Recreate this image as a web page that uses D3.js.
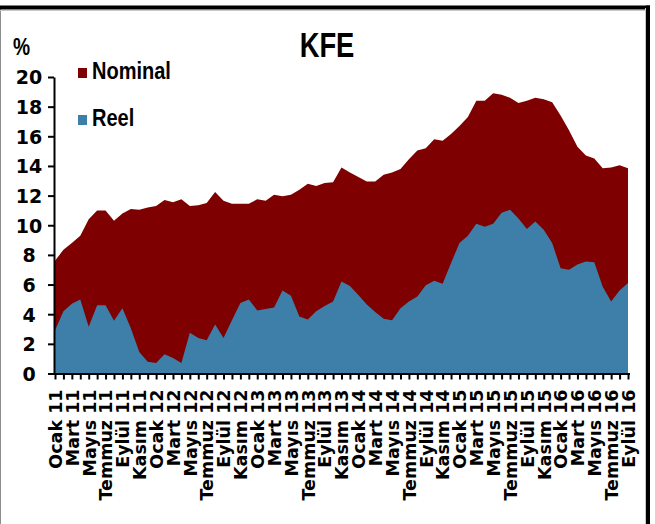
<!DOCTYPE html>
<html>
<head>
<meta charset="utf-8">
<script src="https://cdn.jsdelivr.net/npm/d3@7"></script>
<style>
  html, body { margin: 0; padding: 0; background: #fff; }
  svg { display: block; }
  .narrow { font-family: "Liberation Sans", Arial, sans-serif; font-weight: bold; }
  .axis text { font-family: "DejaVu Sans", Verdana, sans-serif; font-weight: bold; fill: #000; }
</style>
</head>
<body>
<svg id="chart" width="655" height="524"></svg>
<script>
// Month names and years used for the monthly category axis (Ocak 2011 – Eylül 2016)
const monthNames = ["Ocak","Şubat","Mart","Nisan","Mayıs","Haziran","Temmuz","Ağustos","Eylül","Ekim","Kasım","Aralık"];
const years = ["11","12","13","14","15","16"];
const lastMonthOf2016 = 9;

// KFE house price growth, annual %
const nominal = [
  7.6, 8.35, 8.8, 9.3, 10.4, 11.0, 11.0, 10.3, 10.8, 11.1, 11.05, 11.2,
  11.3, 11.7, 11.55, 11.75, 11.3, 11.35, 11.5, 12.25, 11.65, 11.45, 11.45, 11.45,
  11.75, 11.65, 12.05, 11.95, 12.05, 12.4, 12.8, 12.65, 12.85, 12.9, 13.9, 13.55,
  13.25, 12.95, 12.95, 13.4, 13.55, 13.8, 14.45, 15.05, 15.2, 15.8, 15.7, 16.15,
  16.7, 17.3, 18.4, 18.4, 18.9, 18.8, 18.6, 18.25, 18.4, 18.6, 18.5, 18.3,
  17.4, 16.4, 15.3, 14.7, 14.5, 13.85, 13.9, 14.05, 13.85
];
const reel = [
  2.9, 4.2, 4.7, 5.0, 3.15, 4.6, 4.6, 3.55, 4.4, 3.05, 1.45, 0.8,
  0.7, 1.3, 1.05, 0.7, 2.75, 2.4, 2.25, 3.3, 2.4, 3.6, 4.75, 5.0,
  4.25, 4.35, 4.45, 5.6, 5.25, 3.85, 3.65, 4.2, 4.55, 4.85, 6.2, 5.9,
  5.3, 4.65, 4.15, 3.7, 3.6, 4.4, 4.85, 5.2, 5.95, 6.25, 6.05, 7.45,
  8.8, 9.3, 10.1, 9.9, 10.1, 10.85, 11.05, 10.45, 9.75, 10.25, 9.7, 8.8,
  7.1, 7.0, 7.35, 7.55, 7.5, 5.85, 4.85, 5.6, 6.1
];
const yTicks = [0, 2, 4, 6, 8, 10, 12, 14, 16, 18, 20];
const seriesNames = ["Nominal", "Reel"];
const seriesColors = ["#7f0000", "#3d7fa9"];

const categories = [];
years.forEach(yr => {
  monthNames.forEach((m, i) => {
    if (yr === "16" && i >= lastMonthOf2016) return;
    categories.push(m + " " + yr);
  });
});

const svg = d3.select("#chart");

// Frame around the panel
svg.append("line").attr("x1", 0.5).attr("x2", 0.5).attr("y1", 8).attr("y2", 524)
  .attr("stroke", "#8c8c8c").attr("stroke-width", 1);
svg.append("line").attr("x1", 0).attr("x2", 650).attr("y1", 10.5).attr("y2", 10.5)
  .attr("stroke", "#c8c8c8").attr("stroke-width", 1);
svg.append("line").attr("x1", 0).attr("x2", 650).attr("y1", 7.5).attr("y2", 7.5)
  .attr("stroke", "#000").attr("stroke-width", 4);
svg.append("line").attr("x1", 645.5).attr("x2", 645.5).attr("y1", 8).attr("y2", 524)
  .attr("stroke", "#c8c8c8").attr("stroke-width", 1);
svg.append("line").attr("x1", 648).attr("x2", 648).attr("y1", 5.5).attr("y2", 524)
  .attr("stroke", "#000").attr("stroke-width", 4);

const x = d3.scalePoint().domain(categories).range([55, 628]);
const y = d3.scaleLinear().domain([0, 20]).range([373.5, 77]);

// Areas: nominal behind, real in front
const area = vals => d3.area()
  .x((d, i) => x(categories[i]))
  .y0(y(0))
  .y1(d => y(d))(vals);

svg.append("path").attr("d", area(nominal)).attr("fill", seriesColors[0]);
svg.append("path").attr("d", area(reel)).attr("fill", seriesColors[1]);

// Y axis
const yAxis = svg.append("g").attr("class", "axis").attr("transform", "translate(54,0)")
  .call(d3.axisLeft(y).tickValues(yTicks).tickSize(6).tickSizeOuter(0).tickPadding(0));
yAxis.select(".domain").attr("stroke", "#000").attr("stroke-width", 2);
yAxis.selectAll(".tick line").attr("stroke", "#000").attr("stroke-width", 2);
yAxis.selectAll(".tick text")
  .attr("x", -25).attr("text-anchor", "middle").attr("dy", "0.36em")
  .style("font-size", "19px");

// X axis
const xAxis = svg.append("g").attr("class", "axis").attr("transform", `translate(0,${y(0)})`)
  .call(d3.axisBottom(x).tickSize(6).tickSizeOuter(0).tickPadding(0)
    .tickFormat((d, i) => i % 2 === 0 ? d : ""));
xAxis.select(".domain").attr("stroke", "#000").attr("stroke-width", 2)
  .attr("d", `M54,0.5H630`);
xAxis.selectAll(".tick line").attr("stroke", "#000").attr("stroke-width", 2);
xAxis.selectAll(".tick text")
  .attr("transform", "rotate(-90)")
  .attr("x", -16).attr("y", 0).attr("dy", "0.36em")
  .attr("text-anchor", "end")
  .style("font-size", "17.5px");

// Condensed bold text: Liberation Sans Bold squeezed horizontally
function narrowText(px, py, sx, size, anchor, str) {
  svg.append("text").attr("class", "narrow")
    .attr("transform", `translate(${px},${py}) scale(${sx},1)`)
    .attr("text-anchor", anchor)
    .style("font-size", size + "px").attr("fill", "#000").text(str);
}

// Title and unit
narrowText(327, 57, 0.76, 36, "middle", "KFE");
narrowText(13, 55, 0.8, 24, "start", "%");

// Legend
seriesNames.forEach((name, i) => {
  const ly = 79 + i * 47;
  svg.append("rect").attr("x", 78).attr("y", ly - 11).attr("width", 9).attr("height", 10)
    .attr("fill", seriesColors[i]);
  narrowText(92, ly, 0.87, 23, "start", name);
});
</script>
</body>
</html>
